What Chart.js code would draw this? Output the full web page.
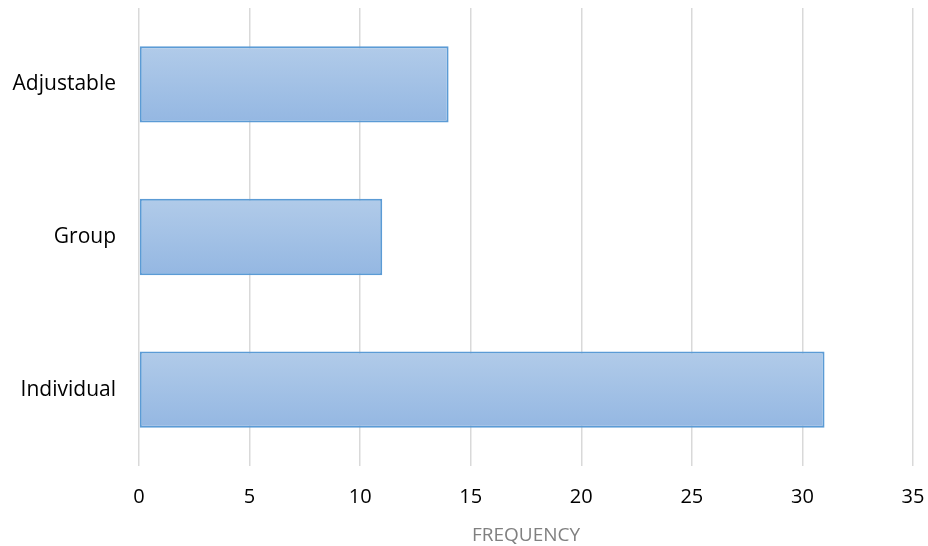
<!DOCTYPE html>
<html>
<head>
<meta charset="utf-8">
<script src="https://cdn.jsdelivr.net/npm/chart.js@4"></script>
<style>
  html, body { margin: 0; padding: 0; background: #fff; }
  #wrap { width: 928px; height: 546px; }
</style>
</head>
<body>
<div id="wrap"><canvas id="chart"></canvas></div>
<script>
// Chart data
const categories = ['Adjustable', 'Group', 'Individual'];
const frequency = [14, 11, 31];
const xTicks = [0, 5, 10, 15, 20, 25, 30, 35];

// Vertical gradient per bar, lighter at the top
function barGradient(context) {
    const chart = context.chart;
    const yScale = chart.scales.y;
    if (!chart.chartArea || !yScale || context.dataIndex === undefined) return '#a5c2e6';
    const center = yScale.getPixelForValue(context.dataIndex);
    const half = (yScale.bottom - yScale.top) / categories.length / 4;
    if (!isFinite(center) || !isFinite(half) || half <= 0) return '#a5c2e6';
    const g = chart.ctx.createLinearGradient(0, center - half, 0, center + half);
    g.addColorStop(0, '#b1cbe9');
    g.addColorStop(1, '#94b7e2');
    return g;
}

new Chart(document.getElementById('chart'), {
    type: 'bar',
    data: {
        labels: categories,
        datasets: [{
            label: 'Frequency',
            data: frequency,
            backgroundColor: barGradient,
            borderColor: '#5b9bd5',
            borderWidth: 2,
            borderSkipped: false,
            barPercentage: 0.5,
            categoryPercentage: 1
        }]
    },
    options: {
        indexAxis: 'y',
        responsive: true,
        maintainAspectRatio: false,
        animation: false,
        layout: { padding: { top: 8, right: 15, left: 0, bottom: 0 } },
        scales: {
            x: {
                min: 0,
                max: 35,
                afterBuildTicks: function(scale) {
                    scale.ticks = xTicks.map(v => ({ value: v }));
                },
                afterFit: function(scale) {
                    scale.height = 80;
                    scale.paddingLeft = 0;
                    scale.paddingRight = 0;
                },
                grid: { color: '#d9d9d9', lineWidth: 1.5, drawTicks: false },
                border: { display: false },
                ticks: {
                    color: '#000',
                    padding: 19,
                    font: { family: 'Open Sans', size: 20 }
                },
                title: {
                    display: true,
                    text: 'FREQUENCY',
                    color: '#808080',
                    padding: { top: 0, bottom: 1 },
                    font: { family: 'Open Sans', size: 19, lineHeight: 1 }
                }
            },
            y: {
                afterFit: function(scale) {
                    scale.width = 139;
                    scale.paddingTop = 0;
                    scale.paddingBottom = 0;
                },
                grid: { display: false, drawTicks: false },
                border: { display: false },
                ticks: {
                    color: '#000',
                    padding: 23,
                    font: { family: 'Open Sans', size: 21 }
                }
            }
        },
        plugins: {
            legend: { display: false },
            tooltip: { enabled: false }
        }
    }
});
</script>
</body>
</html>
